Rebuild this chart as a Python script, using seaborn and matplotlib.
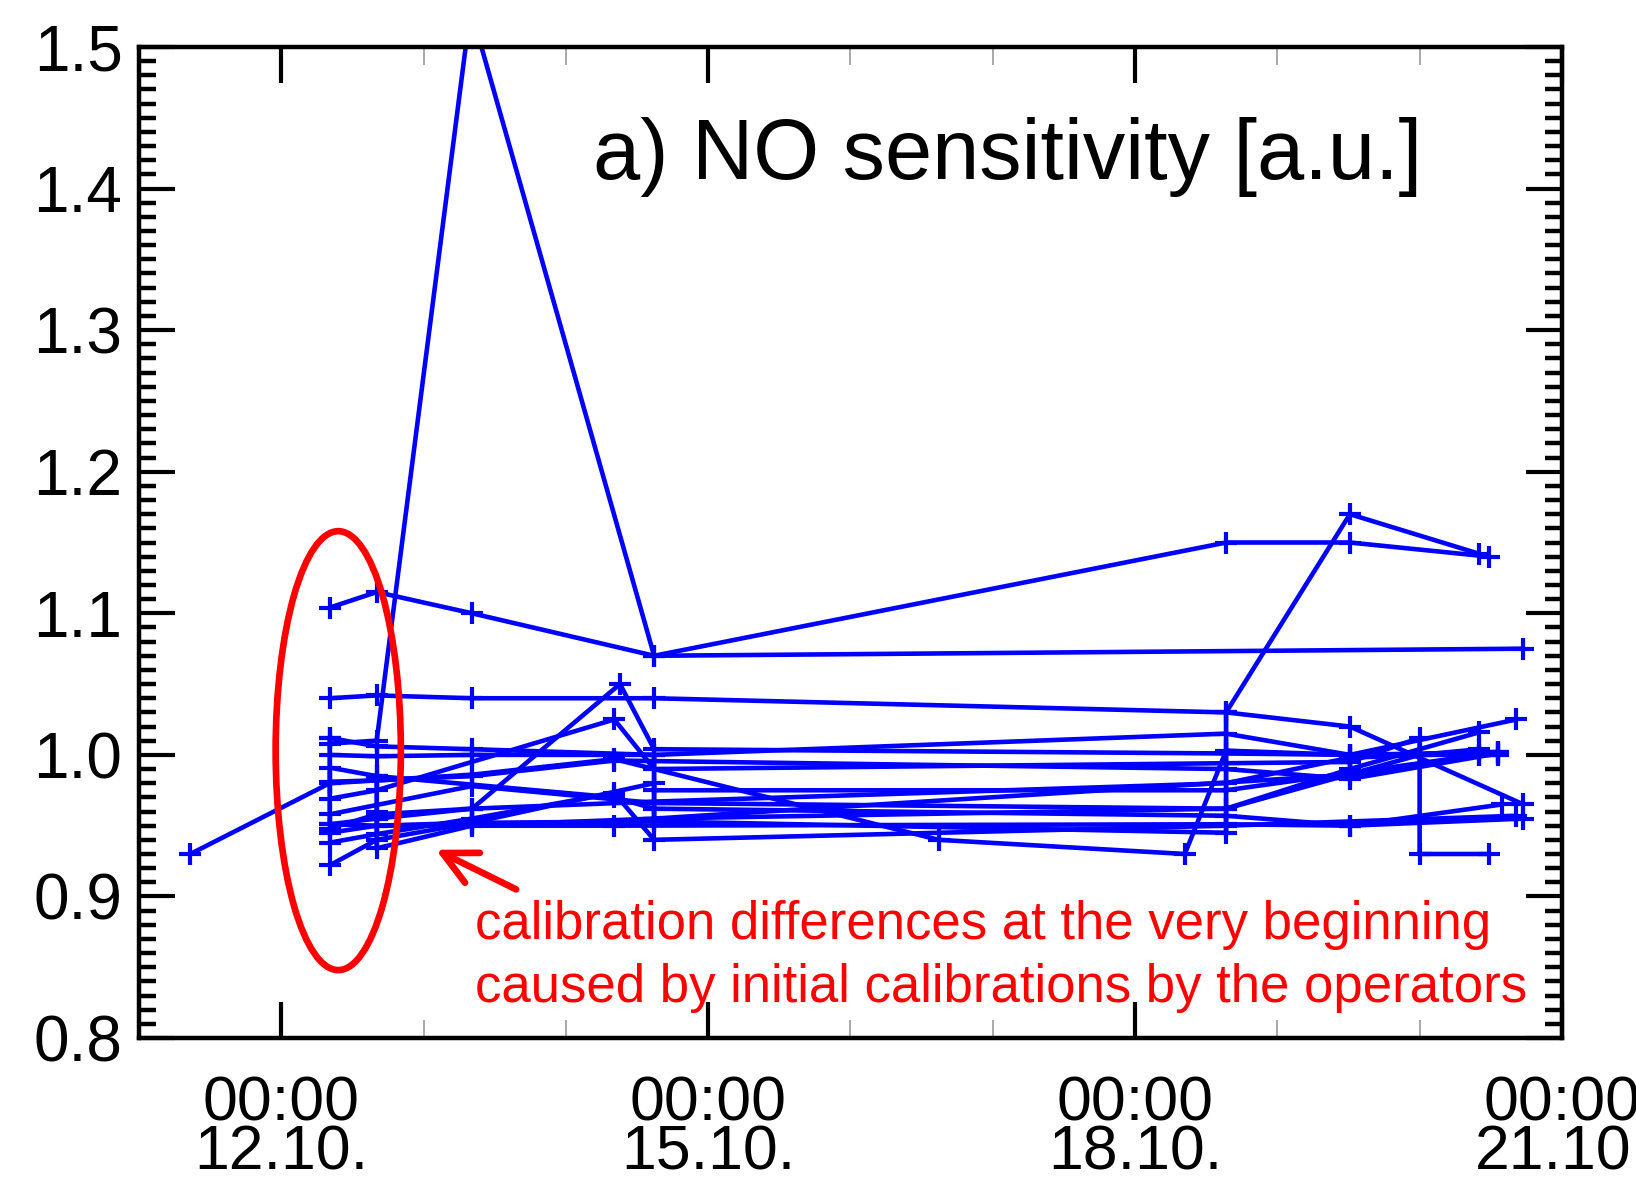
import numpy as np
import pandas as pd
import matplotlib
matplotlib.use("Agg")
import matplotlib.pyplot as plt
import seaborn as sns
from matplotlib.patches import Ellipse
from matplotlib.ticker import MultipleLocator, FixedLocator, FormatStrFormatter

# ---- data: time in days of October, NO sensitivity [a.u.] ----
s01_t = [12.34, 12.67, 13.34, 14.62, 18.64, 19.51, 20.49]
s01_v = [1.104, 1.115, 1.100, 1.070, 1.150, 1.150, 1.140]

s02_t = [12.34, 12.67, 13.33, 14.62, 20.73]
s02_v = [1.008, 1.010, 1.527, 1.070, 1.075]

s03_t = [12.34, 12.67, 13.34, 14.62, 18.64, 19.51, 20.42]
s03_v = [1.040, 1.042, 1.040, 1.040, 1.030, 1.170, 1.142]

s04_t = [11.36, 12.34, 13.34, 14.34, 16.62, 18.35, 18.64, 19.51, 20.68]
s04_v = [0.930, 0.980, 0.986, 0.997, 0.940, 0.930, 1.003, 1.000, 1.025]

s05_t = [12.34, 12.67, 13.34, 14.38, 14.62, 18.64, 19.51, 20.55]
s05_v = [0.948, 0.958, 0.962, 1.050, 1.004, 1.001, 1.000, 1.000]

s06_t = [12.34, 12.67, 14.34, 14.62, 19.51, 20.00, 20.00, 20.49]
s06_v = [0.969, 0.975, 1.025, 0.990, 0.995, 1.012, 0.930, 0.930]

s07_t = [12.34, 12.67, 13.34, 14.34, 14.62, 18.64, 20.68]
s07_v = [0.938, 0.944, 0.955, 0.973, 0.940, 0.950, 0.957]

s08_t = [12.34, 12.67, 13.34, 14.62, 14.62, 18.64, 20.42]
s08_v = [1.000, 0.999, 1.000, 1.000, 0.975, 0.975, 1.000]

s09_t = [12.34, 12.67, 13.34, 14.34, 18.64, 19.51, 20.55]
s09_v = [0.981, 0.982, 0.985, 0.996, 0.990, 0.983, 1.001]

s10_t = [12.34, 12.67, 13.34, 14.62, 14.62, 19.51, 20.42]
s10_v = [0.922, 0.940, 0.952, 0.980, 0.955, 0.986, 1.000]

s11_t = [12.34, 12.67, 14.34, 14.62, 18.64, 19.51, 20.58]
s11_v = [0.991, 0.985, 0.970, 0.962, 0.957, 0.950, 0.965]

s12_t = [12.34, 12.67, 13.34, 14.62, 18.64, 19.51, 20.55]
s12_v = [1.012, 1.006, 1.004, 1.000, 1.015, 1.000, 1.002]

s13_t = [12.34, 13.34, 14.62, 18.64, 19.51, 20.42]
s13_v = [0.958, 0.978, 0.966, 0.962, 0.990, 1.016]

s14_t = [12.67, 12.67, 12.67, 13.34, 14.62, 18.64, 20.00, 20.42]
s14_v = [0.985, 0.960, 0.934, 0.950, 0.955, 0.962, 1.000, 1.004]

s15_t = [12.34, 12.34, 12.34, 12.67, 13.34, 14.62, 18.64, 19.51, 20.55]
s15_v = [1.012, 0.980, 0.951, 0.955, 0.962, 0.967, 0.980, 0.998, 1.002]

s16_t = [12.34, 12.67, 13.34, 14.62, 18.64, 18.64, 19.51, 20.73]
s16_v = [0.945, 0.950, 0.952, 0.953, 0.945, 1.030, 1.020, 0.965]

s17_t = [12.34, 12.67, 14.34, 18.64, 19.51, 20.73]
s17_v = [0.951, 0.950, 0.950, 0.951, 0.950, 0.955]

tick_days = [12, 15, 18, 21]
tick_labels = ["00:00\n12.10.", "00:00\n15.10.", "00:00\n18.10.", "00:00\n21.10."]
minor_days = [13, 14, 16, 17, 19, 20]

title_text = "a) NO sensitivity [a.u.]"
note_line1 = "calibration differences at the very beginning"
note_line2 = "caused by initial calibrations by the operators"

series = [
    (s01_t, s01_v), (s02_t, s02_v), (s03_t, s03_v), (s04_t, s04_v),
    (s05_t, s05_v), (s06_t, s06_v), (s07_t, s07_v), (s08_t, s08_v),
    (s09_t, s09_v), (s10_t, s10_v), (s11_t, s11_v), (s12_t, s12_v),
    (s13_t, s13_v), (s14_t, s14_v), (s15_t, s15_v), (s16_t, s16_v),
    (s17_t, s17_v),
]
rows = []
for i, (t, v) in enumerate(series):
    for tt, vv in zip(t, v):
        rows.append({"series": i, "time": tt, "value": vv})
df = pd.DataFrame(rows)

# ---- style ----
sns.set_style("ticks")
plt.rcParams["font.family"] = ["Liberation Sans", "DejaVu Sans"]
plt.rcParams["text.color"] = "black"
plt.rcParams["xtick.color"] = "black"
plt.rcParams["ytick.color"] = "black"
plt.rcParams["xtick.labelcolor"] = "black"
plt.rcParams["ytick.labelcolor"] = "black"

fig = plt.figure(figsize=(16.36, 11.8), dpi=100)
ax = fig.add_axes([0.085, 0.1203, 0.8697, 0.8399])

sns.lineplot(data=df, x="time", y="value", units="series", estimator=None,
             sort=False, color="#0000ff", linewidth=3.3, marker="+",
             markersize=16, markeredgewidth=3.0, markeredgecolor="#0000ff",
             legend=False, ax=ax)

ax.set_xlim(11, 21)
ax.set_ylim(0.8, 1.5)
ax.set_xlabel("")
ax.set_ylabel("")

ax.xaxis.set_major_locator(FixedLocator(tick_days))
ax.set_xticklabels(tick_labels)
ax.xaxis.set_minor_locator(FixedLocator(minor_days))
ax.yaxis.set_major_locator(MultipleLocator(0.1))
ax.yaxis.set_minor_locator(MultipleLocator(0.01))
ax.yaxis.set_major_formatter(FormatStrFormatter("%.1f"))

ax.tick_params(which="both", direction="in", top=True, right=True)
ax.tick_params(axis="y", which="major", length=26, width=3.0, labelsize=46,
               pad=12, color="black", labelcolor="black")
ax.tick_params(axis="y", which="minor", length=12.5, width=3.2, color="black")
ax.tick_params(axis="x", which="major", length=26, width=3.0, labelsize=45,
               pad=26, color="black", labelcolor="black")
ax.tick_params(axis="x", which="minor", length=13, width=1.2, color="#9a9a9a")
for lab in ax.get_xticklabels():
    lab.set_linespacing(0.8)

for sp in ax.spines.values():
    sp.set_visible(True)
    sp.set_linewidth(3.2)
    sp.set_color("black")

ax.text(0.319, 0.867, title_text, transform=ax.transAxes, fontsize=61,
        ha="left", va="baseline", color="black")
ax.text(0.236, 0.0999, note_line1, transform=ax.transAxes, fontsize=38,
        ha="left", va="baseline", color="#ff0000")
ax.text(0.236, 0.0363, note_line2, transform=ax.transAxes, fontsize=38,
        ha="left", va="baseline", color="#ff0000")

ax.add_patch(Ellipse((12.40, 1.003), width=0.88, height=0.31, fill=False,
                     edgecolor="#ff0000", linewidth=4.8, zorder=5))
ax.annotate("", xy=(13.086, 0.933), xytext=(13.65, 0.905),
            arrowprops=dict(arrowstyle="->,head_length=1.2,head_width=0.6",
                            color="#ff0000", lw=4.8, mutation_scale=20,
                            shrinkA=0, shrinkB=0))

fig.savefig("out.png", dpi=100, facecolor="white")
